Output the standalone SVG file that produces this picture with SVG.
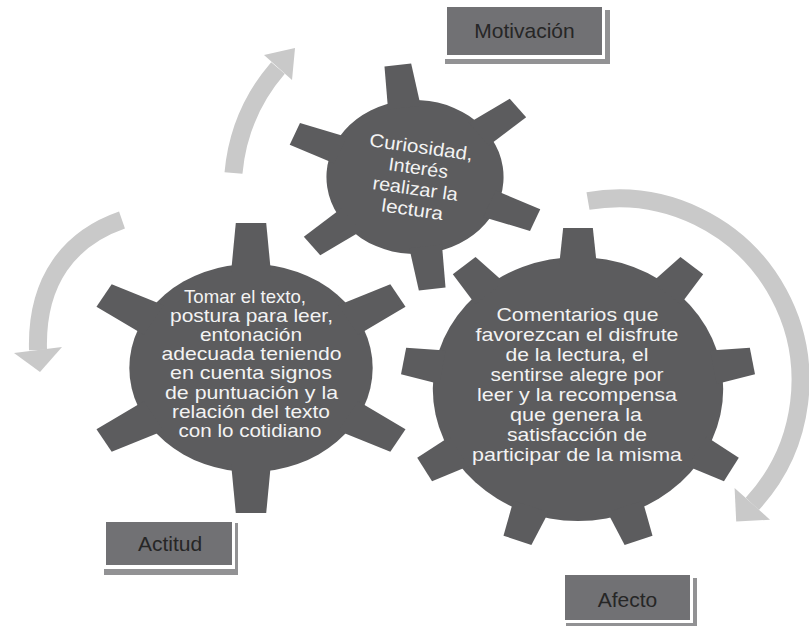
<svg xmlns="http://www.w3.org/2000/svg" xmlns:xlink="http://www.w3.org/1999/xlink" width="809" height="626" viewBox="0 0 809 626">
<style>
.gear{fill:#5c5c5e}
.gt{font-family:"Liberation Sans",Arial,sans-serif;font-size:18.5px;fill:#f3f3f3;text-anchor:middle}
.arrow{fill:none;stroke:#c9c9c9;stroke-width:18}
.ah{fill:#c9c9c9}
.lsh{fill:#929294}
.lbd{fill:#ffffff}
.lfl{fill:#717174}
.lt{font-family:"Liberation Sans",Arial,sans-serif;font-size:21px;fill:#262626;text-anchor:middle}
</style>
<defs>
<polygon id="t1" points="-14.3,-70 -11.7,-113 11.7,-113 14.3,-70"/>
<polygon id="t2" points="-17,-96 -13,-145 13,-145 17,-96"/>
<polygon id="t3" points="-17,-125 -13.5,-161 13.5,-161 17,-125"/>
</defs>
<rect width="809" height="626" fill="#ffffff"/>

<g id="connectors">
<path class="arrow" d="M233.5,173 A187,187 0 0 1 278,68"/>
<polygon class="ah" points="264,55 295,48 292,80"/>
<path class="arrow" d="M122,220 C70,238 36,280 38,350"/>
<polygon class="ah" points="14,353 62,347 40,372"/>
<path class="arrow" d="M588,201 A182,182 0 0 1 752.3,503.8"/>
<polygon class="ah" points="770,519.7 734.6,487.9 736.2,521.6"/>
</g>

<g id="gear-motivacion">
<g class="gear" transform="translate(415,177) scale(1.15,1) rotate(-7.6)">
<circle r="77"/>
<use xlink:href="#t1"/>
<use xlink:href="#t1" transform="rotate(60)"/>
<use xlink:href="#t1" transform="rotate(120)"/>
<use xlink:href="#t1" transform="rotate(180)"/>
<use xlink:href="#t1" transform="rotate(240)"/>
<use xlink:href="#t1" transform="rotate(300)"/>
</g>
<g transform="translate(416,184) rotate(8)">
<text class="gt" x="0" y="-31" textLength="104" lengthAdjust="spacingAndGlyphs">Curiosidad,</text>
<text class="gt" x="0" y="-10" textLength="60" lengthAdjust="spacingAndGlyphs">Interés</text>
<text class="gt" x="0" y="11" textLength="86" lengthAdjust="spacingAndGlyphs">realizar la</text>
<text class="gt" x="0" y="32" textLength="62" lengthAdjust="spacingAndGlyphs">lectura</text>
</g>
</g>

<g id="gear-actitud">
<g class="gear" transform="translate(251,368) scale(1.17,1)">
<circle r="104"/>
<use xlink:href="#t2"/>
<use xlink:href="#t2" transform="rotate(60)"/>
<use xlink:href="#t2" transform="rotate(120)"/>
<use xlink:href="#t2" transform="rotate(180)"/>
<use xlink:href="#t2" transform="rotate(240)"/>
<use xlink:href="#t2" transform="rotate(300)"/>
</g>
<text class="gt" x="245" y="303" textLength="122" lengthAdjust="spacingAndGlyphs">Tomar el texto,</text>
<text class="gt" x="251.5" y="322.1" textLength="163" lengthAdjust="spacingAndGlyphs">postura para leer,</text>
<text class="gt" x="251" y="341.2" textLength="102" lengthAdjust="spacingAndGlyphs">entonación</text>
<text class="gt" x="251.5" y="360.3" textLength="180" lengthAdjust="spacingAndGlyphs">adecuada teniendo</text>
<text class="gt" x="251" y="379.4" textLength="162" lengthAdjust="spacingAndGlyphs">en cuenta signos</text>
<text class="gt" x="251.5" y="398.5" textLength="173" lengthAdjust="spacingAndGlyphs">de puntuación y la</text>
<text class="gt" x="251" y="417.6" textLength="158" lengthAdjust="spacingAndGlyphs">relación del texto</text>
<text class="gt" x="250" y="436.7" textLength="143" lengthAdjust="spacingAndGlyphs">con lo cotidiano</text>
</g>

<g id="gear-afecto">
<g class="gear" transform="translate(578,389) scale(1.1,1)">
<circle r="132"/>
<use xlink:href="#t3"/>
<use xlink:href="#t3" transform="rotate(40)"/>
<use xlink:href="#t3" transform="rotate(80)"/>
<use xlink:href="#t3" transform="rotate(120)"/>
<use xlink:href="#t3" transform="rotate(160)"/>
<use xlink:href="#t3" transform="rotate(200)"/>
<use xlink:href="#t3" transform="rotate(240)"/>
<use xlink:href="#t3" transform="rotate(280)"/>
<use xlink:href="#t3" transform="rotate(320)"/>
</g>
<text class="gt" x="577.5" y="320.7" textLength="162" lengthAdjust="spacingAndGlyphs">Comentarios que</text>
<text class="gt" x="577" y="340.8" textLength="203" lengthAdjust="spacingAndGlyphs">favorezcan el disfrute</text>
<text class="gt" x="577" y="360.9" textLength="143" lengthAdjust="spacingAndGlyphs">de la lectura, el</text>
<text class="gt" x="577" y="381" textLength="173" lengthAdjust="spacingAndGlyphs">sentirse alegre por</text>
<text class="gt" x="577" y="401.1" textLength="200" lengthAdjust="spacingAndGlyphs">leer y la recompensa</text>
<text class="gt" x="576" y="421.2" textLength="132" lengthAdjust="spacingAndGlyphs">que genera la</text>
<text class="gt" x="577" y="441.3" textLength="140" lengthAdjust="spacingAndGlyphs">satisfacción de</text>
<text class="gt" x="577" y="461.4" textLength="210" lengthAdjust="spacingAndGlyphs">participar de la misma</text>
</g>

<g id="label-motivacion">
<rect class="lsh" x="445" y="10" width="165" height="54"/>
<rect class="lbd" x="444" y="4" width="161" height="55"/>
<rect class="lfl" x="447" y="7" width="155" height="48"/>
<text class="lt" x="524.5" y="38">Motivación</text>
</g>

<g id="label-actitud">
<rect class="lsh" x="104" y="523" width="134" height="52"/>
<rect class="lbd" x="103" y="519" width="132" height="50"/>
<rect class="lfl" x="106" y="522" width="126" height="43"/>
<text class="lt" x="170" y="550.5">Actitud</text>
</g>

<g id="label-afecto">
<rect class="lsh" x="566" y="578" width="131" height="48"/>
<rect class="lbd" x="562" y="572" width="131" height="51"/>
<rect class="lfl" x="565" y="575" width="125" height="45"/>
<text class="lt" x="627.5" y="606.5">Afecto</text>
</g>
</svg>
